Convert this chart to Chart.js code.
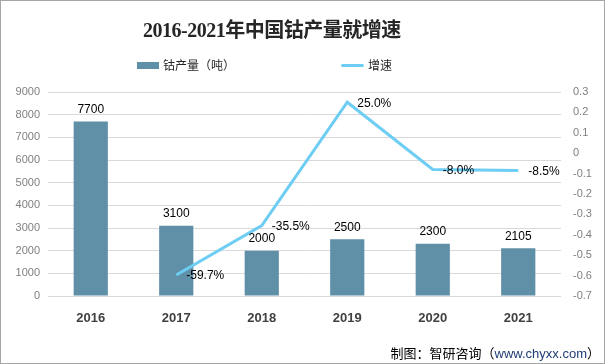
<!DOCTYPE html>
<html><head><meta charset="utf-8">
<script src="https://cdn.jsdelivr.net/npm/chart.js@4/dist/chart.umd.min.js"></script>
<style>
html,body{margin:0;padding:0;background:#fff;}
#wrap{position:relative;width:605px;height:364px;box-sizing:border-box;border:1px solid #a6a6a6;overflow:hidden;background:#fff;}
#c{position:absolute;left:0;top:0;}
#title{position:absolute;left:142px;top:13px;font:bold 20px "Liberation Serif","Noto Sans CJK SC",serif;color:#262626;white-space:nowrap;letter-spacing:-0.5px;}
.leg{position:absolute;top:55px;font:12px "Noto Sans CJK SC",sans-serif;color:#262626;white-space:nowrap;}
.leg i{display:inline-block;vertical-align:middle;margin-right:4px;position:relative;top:-1px;}
#footer{position:absolute;right:4px;top:342px;font:13px "Noto Sans CJK SC",sans-serif;color:#000;white-space:nowrap;}
#footer span{color:#1f3b73;font-family:"Liberation Sans",sans-serif;}
</style></head>
<body>
<div id="wrap">
<canvas id="c" width="603" height="362"></canvas>
<div id="title">2016-2021年中国钴产量就增速</div>
<div class="leg" style="left:136px"><i style="width:22px;height:7px;background:#5f90a8"></i>钴产量（吨）</div>
<div class="leg" style="left:340px"><i style="width:23px;height:3px;background:#6dcdf2;border-radius:2px"></i>增速</div>
<div id="footer">制图：智研咨询（<span>www.chyxx.com</span>）</div>
</div>
<script>
const categories = ['2016','2017','2018','2019','2020','2021'];
const output = [7700, 3100, 2000, 2500, 2300, 2105];
const growth = [null, -0.597, -0.355, 0.25, -0.08, -0.085];
const growthLabels = [null, '-59.7%', '-35.5%', '25.0%', '-8.0%', '-8.5%'];

const labelPlugin = {
  id: 'valueLabels',
  afterDatasetsDraw(chart) {
    const ctx = chart.ctx;
    ctx.save();
    ctx.font = '12px "Liberation Sans", sans-serif';
    ctx.fillStyle = '#000';
    const m0 = chart.getDatasetMeta(0);
    ctx.textAlign = 'center';
    ctx.textBaseline = 'bottom';
    m0.data.forEach((el, i) => {
      ctx.fillText(String(output[i]), el.x, el.y - 6);
    });
    const m1 = chart.getDatasetMeta(1);
    ctx.textAlign = 'left';
    ctx.textBaseline = 'middle';
    m1.data.forEach((el, i) => {
      if (growth[i] === null) return;
      ctx.fillText(growthLabels[i], el.x + 10, el.y + 1);
    });
    ctx.restore();
  }
};

new Chart(document.getElementById('c'), {
  data: {
    labels: categories,
    datasets: [
      { type: 'bar', label: '钴产量（吨）', data: output, backgroundColor: '#5f90a8', yAxisID: 'y', barPercentage: 0.8, categoryPercentage: 0.5, order: 2 },
      { type: 'line', label: '增速', data: growth, borderColor: '#6dcdf2', borderWidth: 3, pointRadius: 0, tension: 0, yAxisID: 'y1', order: 1 }
    ]
  },
  options: {
    responsive: false,
    animation: false,
    layout: { padding: { top: 91, left: 0, right: 0, bottom: 40 } },
    plugins: { legend: { display: false }, title: { display: false }, tooltip: { enabled: false } },
    scales: {
      x: {
        grid: { display: false },
        border: { display: false },
        ticks: { color: '#404040', font: { family: '"Liberation Sans", sans-serif', size: 13, weight: 'bold' }, padding: 7 },
        afterFit: a => { a.height = 27; }
      },
      y: {
        position: 'left',
        min: 0, max: 9000,
        ticks: { stepSize: 1000, color: '#7f7f7f', font: { family: '"Liberation Sans", sans-serif', size: 11 }, padding: 8,
          callback: v => String(v) },
        grid: { color: '#d9d9d9', drawTicks: false },
        border: { display: false },
        afterFit: a => { a.width = 47; }
      },
      y1: {
        position: 'right',
        min: -0.7, max: 0.3,
        ticks: { stepSize: 0.1, color: '#7f7f7f', font: { family: '"Liberation Sans", sans-serif', size: 11 }, padding: 12,
          callback: v => String(Math.round(v * 10) / 10) },
        grid: { display: false, drawTicks: false },
        border: { display: false },
        afterFit: a => { a.width = 43; }
      }
    }
  },
  plugins: [labelPlugin]
});
</script>
</body></html>
